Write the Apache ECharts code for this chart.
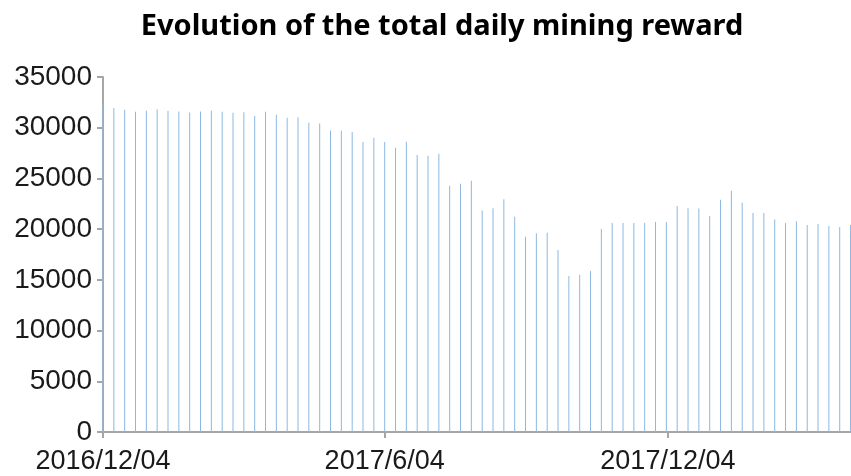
<!DOCTYPE html>
<html>
<head>
<meta charset="utf-8">
<script src="https://cdn.jsdelivr.net/npm/echarts@6/dist/echarts.min.js"></script>
<style>
	html, body { margin: 0; padding: 0; background: #fff; }
	#main { width: 851px; height: 476px; }
</style>
</head>
<body>
<div id="main"></div>
<script>
// weekly mining reward, one bar per Sunday from 2016/12/04
const startDate = '2016-12-04';
const rewards = [
	32270, 31950, 31780, 31580, 31680, 31810, 31680, 31610, 31510, 31610,
	31680, 31580, 31480, 31530, 31160, 31580, 31280, 30990, 31020, 30490,
	30420, 29730, 29700, 29570, 28620, 29010, 28580, 28020, 28620, 27300,
	27230, 27430, 24270, 24470, 24760, 21830, 22060, 22950, 21210, 19260,
	19590, 19650, 17940, 15380, 15500, 15870, 20020, 20610, 20610, 20610,
	20610, 20710, 20710, 22290, 22060, 22030, 21300, 22890, 23780, 22590,
	21600, 21600, 20960, 20610, 20780, 20420, 20510, 20320, 20220, 20420
];
const tickDates = ['2016-12-04', '2017-06-04', '2017-12-04'];
const tickLabels = ['2016/12/04', '2017/6/04', '2017/12/04'];

// x axis is counted in days from the first date
const DAY = 24 * 3600 * 1000;
const t0 = Date.parse(startDate);
const dayOf = d => Math.round((Date.parse(d) - t0) / DAY);
const data = rewards.map((v, i) => [i * 7, v]);
const tickDays = tickDates.map(dayOf);

const myChart = echarts.init(document.getElementById('main'), null, { renderer: 'canvas' });

const option = {
	animation: false,
	title: {
		text: 'Evolution of the total daily mining reward',
		left: 437,
		textAlign: 'center',
		top: 7,
		textStyle: {
			fontFamily: 'Noto Sans',
			fontWeight: 'bold',
			fontSize: 29,
			color: '#000'
		}
	},
	grid: {
		left: 103,
		right: 0,
		top: 77,
		bottom: 44,
		containLabel: false
	},
	xAxis: {
		type: 'value',
		min: 0,
		max: (rewards.length - 1) * 7 + 0.3,
		axisLine: { show: true, onZero: false, lineStyle: { color: '#a6a6a6', width: 2 } },
		axisTick: {
			show: true,
			length: 6,
			customValues: tickDays,
			lineStyle: { color: '#a6a6a6', width: 2 }
		},
		axisLabel: {
			customValues: tickDays,
			margin: 16,
			fontFamily: '"Liberation Sans", Arial, sans-serif',
			fontSize: 27,
			color: '#1a1a1a',
			formatter: v => {
				const k = tickDays.indexOf(v);
				return k >= 0 ? tickLabels[k] : '';
			}
		},
		splitLine: { show: false }
	},
	yAxis: {
		type: 'value',
		min: 0,
		max: 35000,
		interval: 5000,
		axisLine: { show: true, lineStyle: { color: '#a6a6a6', width: 2 } },
		axisTick: { show: true, length: 6, lineStyle: { color: '#a6a6a6', width: 2 } },
		axisLabel: {
			margin: 11,
			fontFamily: '"Liberation Sans", Arial, sans-serif',
			fontSize: 28,
			color: '#1a1a1a',
			formatter: v => String(v)
		},
		splitLine: { show: false }
	},
	series: [
		{
			name: 'reward',
			type: 'bar',
			data: data,
			barWidth: 1,
			itemStyle: { color: '#8cb8e2' }
		}
	]
};

myChart.setOption(option);
</script>
</body>
</html>
